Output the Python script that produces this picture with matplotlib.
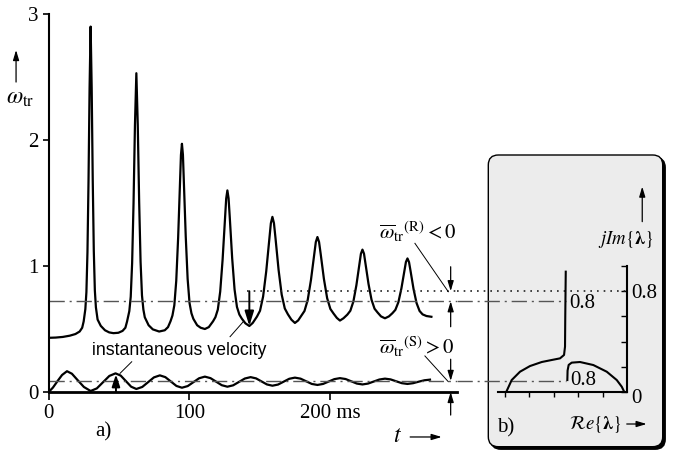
import matplotlib
matplotlib.use("Agg")
import matplotlib.pyplot as plt
from matplotlib.patches import FancyBboxPatch

plt.rcParams["font.family"] = ["Liberation Serif", "DejaVu Serif"]
plt.rcParams["mathtext.fontset"] = "stix"

# transient speed (relaxation oscillation), t in ms
t_osc = [0, 5, 10, 15, 19, 22, 23.8,
         24.85, 26.05, 26.8, 27.55, 28.3, 29.05, 29.8, 30.55, 31.3, 32.05, 32.8, 33.55, 34.75,
         37, 40, 43, 46, 49.5, 52.5, 54.5,
         55.7, 57.3, 58.3, 59.3, 60.3, 61.3, 62.3, 63.3, 64.3, 65.3, 66.3, 67.3, 68.3,
         71, 74, 78.5, 82.5, 84.8,
         86.6, 87.95, 89.3, 90.65, 92.0, 93.35, 94.0, 94.7, 95.4, 96.05, 97.4, 98.75, 100.1, 101.45, 102.8,
         105.5, 108, 111, 113.8,
         116.8, 118.5, 120.2, 121.9, 123.6, 125.3, 126.15, 127, 127.85, 128.7, 130.4, 132.1, 133.8, 135.5, 137.2,
         139.8, 142.6, 145,
         148, 150.2, 152.4, 154.6, 156.8, 157.9, 159, 160.1, 161.2, 163.4, 165.6, 167.8, 170,
         172.5, 175, 177.3,
         179.5, 181.8, 184.1, 186.4, 188.7, 189.85, 191, 192.15, 193.3, 195.6, 197.9, 200.2, 202.5,
         204.8, 207, 209.5,
         212.25, 214.4, 216.55, 218.7, 220.85, 221.9, 223, 224.1, 225.15, 227.3, 229.45, 231.6, 233.75,
         236.2, 239, 241.8,
         244.25, 246.4, 248.55, 250.7, 252.85, 253.9, 255, 256.1, 257.15, 259.3, 261.45, 263.6, 265.75, 268.5, 272]
w_osc = [0.43, 0.432, 0.437, 0.447, 0.46, 0.48, 0.51,
         0.56, 0.658, 0.793, 1.11, 1.675, 2.41, 2.9, 2.413, 1.683, 1.122, 0.806, 0.672, 0.575,
         0.525, 0.49, 0.473, 0.467, 0.47, 0.485, 0.51,
         0.56, 0.642, 0.756, 1.024, 1.50, 2.117, 2.53, 2.12, 1.505, 1.033, 0.767, 0.654, 0.593,
         0.53, 0.497, 0.48, 0.49, 0.515,
         0.562, 0.607, 0.689, 0.882, 1.225, 1.672, 1.882, 1.97, 1.883, 1.676, 1.235, 0.897, 0.706, 0.625, 0.581,
         0.53, 0.51, 0.50, 0.515,
         0.561, 0.594, 0.654, 0.797, 1.05, 1.38, 1.535, 1.60, 1.537, 1.385, 1.062, 0.814, 0.675, 0.615, 0.583,
         0.545, 0.524, 0.548,
         0.598, 0.645, 0.758, 0.957, 1.217, 1.339, 1.39, 1.340, 1.221, 0.968, 0.773, 0.663, 0.617,
         0.574, 0.548, 0.568,
         0.605, 0.643, 0.731, 0.889, 1.093, 1.19, 1.23, 1.191, 1.097, 0.898, 0.745, 0.659, 0.622,
         0.588, 0.567, 0.585,
         0.614, 0.645, 0.718, 0.848, 1.017, 1.097, 1.13, 1.098, 1.021, 0.858, 0.732, 0.661, 0.631,
         0.60, 0.585, 0.60,
         0.625, 0.652, 0.713, 0.823, 0.965, 1.032, 1.06, 1.031, 0.963, 0.818, 0.706, 0.643, 0.616, 0.603, 0.597]

# instantaneous velocity, stable case
t_vel = [0, 3, 6.5, 9.5, 13, 16.5, 20.5, 25, 29.8,
         34.2, 38.65, 43.1, 47.5, 51.2, 54.9, 58.6, 62.3,
         66.5, 70.65, 74.8, 79, 82.9, 86.85, 90.8, 94.7,
         98.8, 102.85, 106.9, 111, 115, 119, 123, 127,
         131.1, 135.25, 139.4, 143.5, 147.4, 151.25, 155.1, 159,
         163, 167, 171, 175, 179, 183, 187, 191,
         195, 199, 203, 207, 211, 215, 219, 223,
         227, 231, 235, 239, 243, 247, 251, 255,
         259, 263, 267, 271]
w_vel = [0.0, 0.035, 0.09, 0.135, 0.165, 0.145, 0.095, 0.04, 0.008,
         0.0285, 0.078, 0.1275, 0.148, 0.13, 0.086, 0.042, 0.024,
         0.04, 0.078, 0.116, 0.132, 0.118, 0.083, 0.048, 0.034,
         0.047, 0.078, 0.109, 0.122, 0.11, 0.082, 0.054, 0.042,
         0.053, 0.08, 0.107, 0.118, 0.108, 0.084, 0.06, 0.05,
         0.059, 0.082, 0.105, 0.114, 0.106, 0.085, 0.064, 0.056,
         0.064, 0.083, 0.102, 0.11, 0.103, 0.085, 0.067, 0.06,
         0.067, 0.083, 0.099, 0.106, 0.1, 0.085, 0.07, 0.064,
         0.07, 0.082, 0.093, 0.098]

mean_R = 0.72      # dash-dot, unstable case
mean_S = 0.088     # dash-dot, stable case
dot_R = 0.80       # dotted reference
t_dot = 140.7      # dotted line starts here
t_valley = 142.6   # valley pointed at by the arrow
w_valley = 0.524
t_velpk = 47.8
w_velpk = 0.14

# root locus branches (Re, Im)
re_left = [-0.99, -0.945, -0.877, -0.795, -0.699, -0.617, -0.549, -0.516, -0.508, -0.506, -0.502]
im_left = [0.0, 0.095, 0.161, 0.206, 0.238, 0.254, 0.267, 0.294, 0.36, 0.598, 0.955]
re_right = [-0.489, -0.487, -0.478, -0.453, -0.385, -0.276, -0.166, -0.084, -0.043, -0.022]
im_right = [0.095, 0.17, 0.215, 0.233, 0.238, 0.214, 0.161, 0.095, 0.042, 0.0]

xticks = [0, 100, 200]
xticklabels = ["0", "100", "200 ms"]
yticks = [0, 1, 2, 3]
re_ticks = [-1.0, -0.8, -0.6, -0.4, -0.2]
im_ticks = [0, 0.2, 0.4, 0.6, 0.8, 1.0]
im_labels = ["", "", "", "", "0.8", ""]

DD = (0, (11, 3.5, 1.5, 3.5))
DOT = (0, (1, 3))
GRAY = "#555555"

fig = plt.figure(figsize=(6.84, 4.55), dpi=100)
ax = fig.add_axes([48.7/684, 63/455, 408.3/684, 378/455])
ax2 = fig.add_axes([457/684, 63/455, 208/684, 378/455])
for a in (ax, ax2):
    a.set_facecolor("none")

# grey panel b) with shadow
fig.add_artist(FancyBboxPatch((4.908, 0.058), 1.744, 2.917, boxstyle="round,pad=0,rounding_size=0.1",
                              transform=fig.dpi_scale_trans, fc="k", ec="k", lw=1, zorder=-2))
fig.add_artist(FancyBboxPatch((4.883, 0.083), 1.744, 2.917, boxstyle="round,pad=0,rounding_size=0.1",
                              transform=fig.dpi_scale_trans, fc="#ececec", ec="k", lw=1, zorder=-1))

def arrow(a, tip, tail, ms=10, hl=0.6, hw=0.18, lw=0.9):
    a.annotate("", xy=tip, xytext=tail, annotation_clip=False,
               arrowprops=dict(arrowstyle=f"-|>,head_length={hl},head_width={hw}", mutation_scale=ms,
                               color="k", lw=lw, shrinkA=0, shrinkB=0))

# ---- a) time plot
ax.plot(t_osc, w_osc, color="k", lw=1.6, solid_joinstyle="round")
ax.plot(t_vel, w_vel, color="k", lw=1.6, solid_joinstyle="round")
ax.axhline(mean_R, color=GRAY, lw=1.0, ls=DD)
ax.axhline(mean_S, color=GRAY, lw=1.0, ls=DD)
ax.hlines(dot_R, t_dot, 290.2, color="#222222", lw=1.2, ls=DOT)

ax.set_xlim(0, 290.2)
ax.set_ylim(0, 3)
ax.set_xticks(xticks)
ax.set_xticklabels(xticklabels)
ax.set_yticks(yticks)
ax.tick_params(labelsize=15, width=1.2, colors="k")
ax.tick_params(axis="y", length=4.5, pad=3)
ax.tick_params(axis="x", length=5.5, pad=3)
for s in ("top", "right"):
    ax.spines[s].set_visible(False)
ax.spines["left"].set_linewidth(1.5)
ax.spines["bottom"].set_linewidth(2.0)

ax.text(-20.4, 2.286, r"$\omega_{\rm tr}$", ha="center", va="baseline", fontsize=17)
arrow(ax, (-23.2, 2.714), (-23.2, 2.46))
ax.text(247.9, -0.394, r"$t$", ha="center", va="baseline", fontsize=17)
arrow(ax, (279.3, -0.357), (256.9, -0.357))
ax.text(32.9, -0.357, "a)", ha="left", va="baseline", fontsize=15)

ax.text(93, 0.294, "instantaneous velocity", ha="center", va="baseline", fontsize=12.8,
        family=["Liberation Sans", "DejaVu Sans"])
ax.plot([128.9, 138.3], [0.439, 0.558], color="k", lw=0.7)
ax.plot([59, 50.7], [0.24, 0.148], color="k", lw=0.7)
arrow(ax, (t_valley, w_valley), (t_valley, dot_R), ms=16, hl=0.55, hw=0.17, lw=1.4)
arrow(ax, (t_velpk, w_velpk), (t_velpk, 0.0), ms=12, hl=0.6, hw=0.2, lw=1.4)

ax.text(261.9, 1.212, r"$\overline{\omega}_{\rm tr}{}^{\rm (R)} < 0$", ha="center", va="baseline", fontsize=15)
ax.text(261.9, 0.302, r"$\overline{\omega}_{\rm tr}{}^{\rm (S)} > 0$", ha="center", va="baseline", fontsize=15)
ax.plot([260.3, 284], [1.18, 0.796], color="k", lw=0.7, clip_on=False)
ax.plot([267.4, 284], [0.286, 0.082], color="k", lw=0.7, clip_on=False)
arrow(ax, (285.7, dot_R), (285.7, 0.994))
arrow(ax, (285.7, mean_R), (285.7, 0.518))
arrow(ax, (285.7, mean_S), (285.7, 0.26))
arrow(ax, (285.7, 0.0), (285.7, -0.183))

# ---- b) root locus, same vertical scale as a)
ax2.set_xlim(-1.3934, 0.3115)
ax2.set_ylim(0, 3)
x0 = ax2.get_xlim()[0]
ax2.hlines(mean_R, x0, re_left[-1], color=GRAY, lw=1.0, ls=DD)
ax2.hlines(mean_S, x0, re_left[-1], color=GRAY, lw=1.0, ls=DD)
ax2.hlines(dot_R, x0, 0, color="#222222", lw=1.2, ls=DOT)
ax2.plot(re_left, im_left, color="k", lw=1.5, solid_joinstyle="round")
ax2.plot(re_right, im_right, color="k", lw=1.5, solid_joinstyle="round")

for s in ("top", "left"):
    ax2.spines[s].set_visible(False)
ax2.spines["right"].set_position(("data", 0))
ax2.spines["right"].set_bounds(0, 1.0)
ax2.spines["bottom"].set_position(("data", 0))
ax2.spines["bottom"].set_bounds(-1.06, 0)
ax2.spines["right"].set_linewidth(1.5)
ax2.spines["bottom"].set_linewidth(1.5)
ax2.yaxis.tick_right()
ax2.set_yticks(im_ticks)
ax2.set_yticklabels(im_labels)
ax2.set_xticks(re_ticks)
ax2.set_xticklabels([])
ax2.tick_params(axis="y", direction="in", length=4, width=1.0, pad=3, labelsize=15)
ax2.tick_params(axis="x", direction="out", length=3.5, width=1.0)
ax2.text(0.035, -0.05, "0", ha="left", va="center", fontsize=15)

ax2.text(-0.473, 0.706, "0.8", ha="left", va="center", fontsize=15)
ax2.text(-0.467, 0.093, "0.8", ha="left", va="center", fontsize=15)
ax2.text(0.216, 1.175, r"$j\mathit{Im}\{\boldsymbol{\lambda}\}$", ha="right", va="baseline", fontsize=13.5)
arrow(ax2, (0.125, 1.63), (0.125, 1.352))
ax2.text(-0.04, -0.296, r"$\mathcal{R}e\{\boldsymbol{\lambda}\}$", ha="right", va="baseline", fontsize=13.5)
arrow(ax2, (0.161, -0.254), (-0.002, -0.254))
ax2.text(-1.068, -0.325, "b)", ha="left", va="baseline", fontsize=15)

fig.savefig("out.png", dpi=100)
